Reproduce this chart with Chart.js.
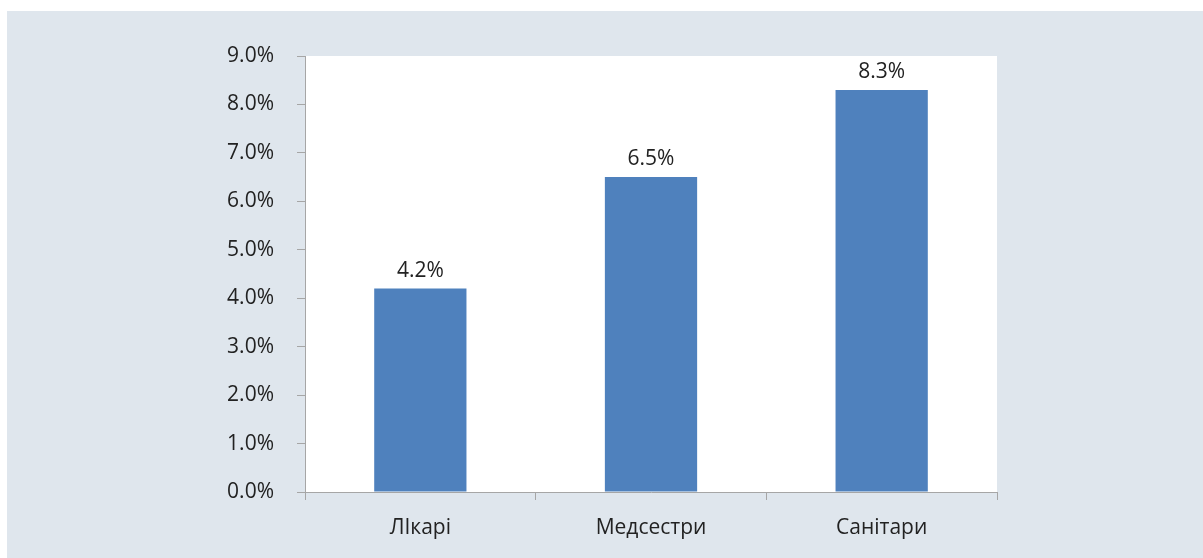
<!DOCTYPE html>
<html>
<head>
<meta charset="utf-8">
<script src="https://cdn.jsdelivr.net/npm/chart.js@4/dist/chart.umd.min.js"></script>
<style>
  html, body { margin: 0; padding: 0; background: #ffffff; }
  #wrap { position: relative; width: 1203px; height: 558px; }
</style>
</head>
<body>
<div id="wrap"><canvas id="c" width="1203" height="558"></canvas></div>
<script>
// Share of staff by category, percent
const categories = ['ЛІкарі', 'Медсестри', 'Санітари'];
const shares = [4.2, 6.5, 8.3];
const yMax = 9;
const yStep = 1;

const textColor = '#222222';
const axisColor = '#a6a6a6';
const fontFamily = '"Open Sans", "DejaVu Sans", sans-serif';
const fontSize = 21;

// Light panel behind the chart and white plot area
const panelPlugin = {
  id: 'panel',
  beforeDraw(chart) {
    const { ctx, chartArea: a } = chart;
    ctx.save();
    ctx.fillStyle = '#dfe6ed';
    ctx.fillRect(7, 11, chart.width - 7, chart.height - 11);
    ctx.fillStyle = '#ffffff';
    ctx.fillRect(a.left, a.top, a.right - a.left, a.bottom - a.top);
    ctx.restore();
  }
};

// Value labels above each bar
const valueLabels = {
  id: 'valueLabels',
  afterDatasetsDraw(chart) {
    const { ctx } = chart;
    const meta = chart.getDatasetMeta(0);
    ctx.save();
    ctx.font = fontSize + 'px ' + fontFamily;
    ctx.fillStyle = textColor;
    ctx.textAlign = 'center';
    ctx.textBaseline = 'alphabetic';
    meta.data.forEach((bar, i) => {
      const v = chart.data.datasets[0].data[i];
      ctx.fillText(v.toFixed(1) + '%', bar.x, bar.y - 12);
    });
    ctx.restore();
  }
};

new Chart(document.getElementById('c'), {
  type: 'bar',
  data: {
    labels: categories,
    datasets: [{
      data: shares,
      backgroundColor: '#4f81bd',
      borderWidth: 0,
      barPercentage: 0.4,
      categoryPercentage: 1.0
    }]
  },
  options: {
    responsive: false,
    animation: false,
    devicePixelRatio: 1,
    layout: { padding: { left: 0, right: 206, top: 56, bottom: 0 } },
    plugins: {
      legend: { display: false },
      tooltip: { enabled: false }
    },
    scales: {
      x: {
        grid: {
          drawOnChartArea: false,
          drawTicks: true,
          tickLength: 8,
          color: axisColor,
          offset: true
        },
        border: { color: axisColor, width: 1 },
        ticks: {
          color: textColor,
          font: { family: fontFamily, size: fontSize },
          padding: 15
        },
        afterFit(scale) { scale.height = 66; }
      },
      y: {
        min: 0,
        max: yMax,
        grid: {
          drawOnChartArea: false,
          drawTicks: true,
          tickLength: 8,
          color: axisColor
        },
        border: { color: axisColor, width: 1 },
        ticks: {
          stepSize: yStep,
          color: textColor,
          font: { family: fontFamily, size: fontSize },
          padding: 23,
          callback: v => Number(v).toFixed(1) + '%'
        },
        afterFit(scale) { scale.width = 305; }
      }
    }
  },
  plugins: [panelPlugin, valueLabels]
});
</script>
</body>
</html>
